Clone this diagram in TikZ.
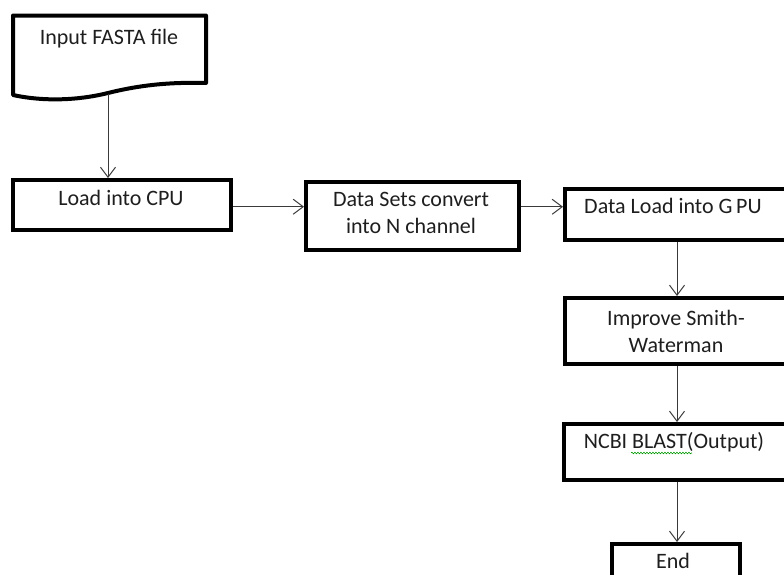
\documentclass[tikz,border=0pt]{standalone}
\usepackage{fontspec}
\setmainfont{Carlito}
\usetikzlibrary{arrows.meta,decorations.pathmorphing}
\definecolor{txt}{HTML}{1E1E1E}
\definecolor{ln}{HTML}{3A3A3A}
\begin{document}
\begin{tikzpicture}[x=1pt,y=-1pt,
  box/.style={draw=black,line width=4pt,minimum width=#1,inner sep=0pt},
  lbl/.style={anchor=base,inner sep=0pt,text=txt,font=\fontsize{22}{26.5}\selectfont,align=center},
  arr/.style={draw=ln,line width=1pt,-{Straight Barb[length=10pt,width=15pt,line width=1pt]}}]
\clip (0,0) rectangle (784,574);
% document shape
\draw[line width=4pt,line join=round]
  (13,95) -- (13,15.5) -- (206,15.5) -- (206,83)
  .. controls (170,82) and (140,85) .. (108,93)
  .. controls (80,100) and (45,102) .. (13,95) -- cycle;
\coordinate (docb) at (108,94);
\node[lbl] (tdoc) at (109,44) {Input FASTA file};
% boxes
\node[box=218pt,minimum height=50pt] (load) at (122,205) {};
\node[lbl] (tload) at (121,205) {Load into CPU};
\node[box=212.5pt,minimum height=68.5pt] (ds) at (412.25,215.75) {};
\node[lbl] (tds) at (411,233) {Data Sets convert\\into N channel};
\node[box=223pt,minimum height=51.5pt] (gpu) at (676.5,214.25) {};
\node[lbl] (tgpu) at (673,213) {Data Load into G\,PU};
\node[box=223pt,minimum height=66pt] (imp) at (676.5,331) {};
\node[lbl] (timp) at (676,352) {Improve Smith-\\Waterman};
\node[box=224pt,minimum height=55.5pt] (ncbi) at (676,451.75) {};
\node[lbl] (tncbi) at (674,448) {NCBI BLAST(Output)};
\node[box=128.5pt,minimum height=46pt] (end) at (675.75,567) {};
\node[lbl] (tend) at (673,568) {End};
\draw[green!60!black,line width=0.6pt,decorate,decoration={snake,amplitude=0.8pt,segment length=3pt}] (631,453) -- (692,453);
% connectors
\coordinate (colx) at (677,0);
\draw[arr] (docb) -- (docb |- load.north);
\draw[arr] ([yshift=-1.7pt]load.east) -- ([yshift=-1.7pt]load.east -| ds.west);
\draw[arr] ([yshift=9pt]ds.east) -- ([yshift=9pt]ds.east -| gpu.west);
\draw[arr] (gpu.south -| colx) -- (imp.north -| colx);
\draw[arr] (imp.south -| colx) -- (ncbi.north -| colx);
\draw[arr] (ncbi.south -| colx) -- (end.north -| colx);
\end{tikzpicture}
\end{document}
